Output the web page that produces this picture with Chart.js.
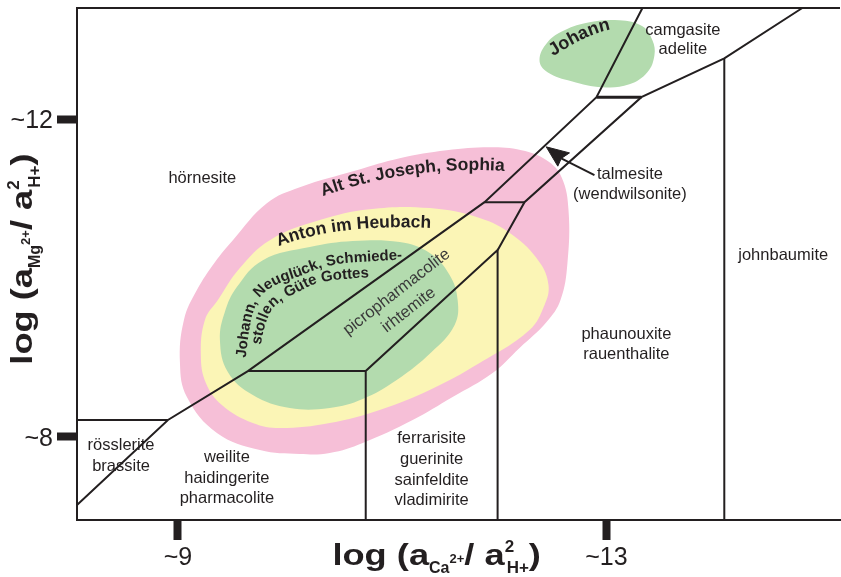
<!DOCTYPE html>
<html>
<head>
<meta charset="utf-8">
<script src="https://cdn.jsdelivr.net/npm/chart.js@4.4.1/dist/chart.umd.min.js"></script>
<style>
  html, body { margin: 0; padding: 0; background: #fff; }
</style>
</head>
<body>
<canvas id="diagram" width="841" height="577"></canvas>
<script>
// approximate tick values printed on the diagram
const xTicks = [9, 13];
const yTicks = [8, 12];
const xRange = [8.058, 15.18];
const yRange = [6.955, 13.40];

// stability field boundaries, x = log(aCa2+/a2H+), y = log(aMg2+/a2H+)
const mainBoundary = [[8.058, 7.145], [8.907, 8.214], [9.653, 8.83], [11.862, 10.956], [12.907, 12.277], [13.336, 13.40]];
const tieLower = [[11.862, 10.956], [12.235, 10.956]];
const rightBoundary = [[11.984, 10.352], [12.235, 10.956], [13.326, 12.277], [14.10, 12.767], [14.828, 13.40]];
const tieUpper = [[12.907, 12.277], [13.326, 12.277]];
const ferrarisiteField = [[10.753, 6.955], [10.753, 8.83], [11.984, 10.352], [11.984, 6.955]];
const weiliteTop = [[9.653, 8.83], [10.753, 8.83]];
const johnbaumiteEdge = [[14.10, 12.767], [14.10, 6.955]];
const rossleriteTop = [[8.058, 8.214], [8.907, 8.214]];
const frameTop = [[8.058, 13.40], [15.18, 13.40]];

// arrow pointing at the talmesite field
const talmesiteArrow = [[12.888, 11.296], [12.578, 11.506]];
const talmesiteHead = [[12.438, 11.652], [12.655, 11.576], [12.578, 11.506], [12.546, 11.409], [12.438, 11.652]];

// observed assemblages (outlines of the shaded fields)
const altStJoseph = [
  [9.019, 8.931], [9.056, 9.472], [9.177, 9.849], [9.345, 10.201], [9.513, 10.478], [9.830, 10.943],
  [10.138, 11.145], [10.669, 11.359], [11.070, 11.510], [11.508, 11.610], [11.909, 11.648], [12.207, 11.610],
  [12.441, 11.484], [12.581, 11.271], [12.646, 10.855], [12.636, 10.189], [12.571, 9.723], [12.441, 9.447],
  [12.189, 9.120], [11.937, 8.805], [11.564, 8.503], [11.191, 8.214], [10.725, 7.925], [10.417, 7.799],
  [10.138, 7.786], [9.765, 7.836], [9.364, 8.050], [9.084, 8.503]
];
const antonImHeubach = [
  [9.214, 9.031], [9.252, 9.472], [9.373, 9.723], [9.578, 10.126], [9.858, 10.478], [10.324, 10.730],
  [10.790, 10.868], [11.350, 10.881], [11.816, 10.755], [12.124, 10.541], [12.375, 10.201], [12.459, 9.912],
  [12.422, 9.660], [12.282, 9.346], [11.816, 8.931], [11.350, 8.591], [10.883, 8.340], [10.417, 8.176],
  [9.951, 8.113], [9.699, 8.176], [9.410, 8.403], [9.261, 8.679]
];
const johannNeugluck = [
  [9.392, 9.220], [9.438, 9.572], [9.550, 9.887], [9.793, 10.226], [10.231, 10.390], [10.632, 10.466],
  [11.070, 10.453], [11.350, 10.315], [11.536, 10.038], [11.611, 9.723], [11.583, 9.409], [11.368, 9.069],
  [11.042, 8.717], [10.725, 8.478], [10.417, 8.365], [10.044, 8.365], [9.699, 8.528], [9.466, 8.818]
];
const johannUpper = [
  [12.375, 12.742], [12.450, 12.969], [12.608, 13.120], [12.842, 13.220], [13.121, 13.245], [13.336, 13.170],
  [13.429, 12.994], [13.448, 12.805], [13.382, 12.591], [13.214, 12.440], [12.963, 12.403], [12.674, 12.478],
  [12.450, 12.591]
];

const ink = '#231f20';
const fontFamily = '"Liberation Sans", Arial, Helvetica, sans-serif';

// mineral names, centred on the given data position (following lines one gap lower)
const fieldLabels = [
  { lines: ['hörnesite'], x: 9.228, y: 11.252 },
  { lines: ['camgasite', 'adelite'], x: 13.713, y: 13.113, gap: 19 },
  { lines: ['talmesite', '(wendwilsonite)'], x: 13.219, y: 11.302, gap: 20 },
  { lines: ['johnbaumite'], x: 14.650, y: 10.289 },
  { lines: ['phaunouxite', 'rauenthalite'], x: 13.186, y: 9.296, gap: 20 },
  { lines: ['rösslerite', 'brassite'], x: 8.469, y: 7.893, gap: 20.5 },
  { lines: ['weilite', 'haidingerite', 'pharmacolite'], x: 9.457, y: 7.742, gap: 20.7 },
  { lines: ['ferrarisite', 'guerinite', 'sainfeldite', 'vladimirite'], x: 11.368, y: 7.981, gap: 20.8 },
  { lines: ['picropharmacolite'], x: 11.042, y: 9.824, rot: -37.7, color: '#3a3a3a' },
  { lines: ['irhtemite'], x: 11.154, y: 9.598, rot: -37.7, color: '#3a3a3a' }
];

// locality names written along curves: baseline path in data units
const curvedLabels = [
  { text: 'Alt St. Joseph, Sophia', bez: [[10.333, 11.019], [11.173, 11.434], [12.068, 11.346]], size: 17.5 },
  { text: 'Anton im Heubach', bez: [[9.923, 10.390], [10.478, 10.692], [11.378, 10.629]], size: 17.5 },
  { text: 'Johann', bez: [[12.487, 12.780], [12.841, 13.094], [13.056, 13.132]], size: 18 },
  {
    text: 'Johann, Neuglück, Schmiede-', size: 15, start: true,
    path: [[9.634, 8.994], [9.662, 9.321], [9.709, 9.598], [9.783, 9.786], [9.932, 9.925],
           [10.138, 10.025], [10.324, 10.126], [10.557, 10.189], [10.837, 10.214], [11.126, 10.239]]
  },
  {
    text: 'stollen, Güte Gottes', size: 15, start: true,
    path: [[9.774, 9.157], [9.811, 9.396], [9.876, 9.598], [9.979, 9.723], [10.119, 9.824],
           [10.277, 9.925], [10.464, 9.975], [10.650, 10.0], [10.828, 10.013]]
  }
];

function pts(arr) {
  return arr.map(p => ({ x: p[0], y: p[1] }));
}

// wrap the outline so the spline closes smoothly
function loopPts(arr) {
  const n = arr.length;
  return pts([arr[n - 1], ...arr, arr[0], arr[1]]);
}

function lineSet(arr, width, order) {
  return {
    data: pts(arr), showLine: true, borderColor: ink, borderWidth: width,
    pointRadius: 0, fill: false, tension: 0, order: order, clip: 4
  };
}

function fieldSet(arr, color, order) {
  return {
    data: loopPts(arr), showLine: true, borderColor: 'rgba(0,0,0,0)', borderWidth: 0,
    backgroundColor: color, fill: 'shape', tension: 0.4, pointRadius: 0, order: order
  };
}

// sample a quadratic bezier (pixel points)
function sampleBezier(P0, C, P2) {
  const out = [];
  for (let i = 0; i <= 300; i++) {
    const t = i / 300, a = (1 - t) * (1 - t), b = 2 * (1 - t) * t, c = t * t;
    out.push([a * P0[0] + b * C[0] + c * P2[0], a * P0[1] + b * C[1] + c * P2[1]]);
  }
  return out;
}

// sample a catmull-rom spline through the pixel points
function sampleSpline(P) {
  const out = [];
  for (let i = 0; i < P.length - 1; i++) {
    const p0 = P[Math.max(i - 1, 0)], p1 = P[i], p2 = P[i + 1], p3 = P[Math.min(i + 2, P.length - 1)];
    for (let k = 0; k < 40; k++) {
      const t = k / 40, t2 = t * t, t3 = t2 * t;
      const f = (a, b, c, d) => 0.5 * (2 * b + (-a + c) * t + (2 * a - 5 * b + 4 * c - d) * t2 + (-a + 3 * b - 3 * c + d) * t3);
      out.push([f(p0[0], p1[0], p2[0], p3[0]), f(p0[1], p1[1], p2[1], p3[1])]);
    }
  }
  out.push(P[P.length - 1]);
  return out;
}

function textOnPath(ctx, text, path, alignStart) {
  const N = path.length - 1;
  const len = [0];
  for (let i = 1; i <= N; i++) len.push(len[i - 1] + Math.hypot(path[i][0] - path[i - 1][0], path[i][1] - path[i - 1][1]));
  const start = alignStart ? 0 : (len[N] - ctx.measureText(text).width) / 2;
  for (let k = 0; k < text.length; k++) {
    const ch = text[k];
    const s = start + ctx.measureText(text.slice(0, k)).width + ctx.measureText(ch).width / 2;
    let i = 1;
    while (i < N && len[i] < s) i++;
    const f = (s - len[i - 1]) / ((len[i] - len[i - 1]) || 1);
    const x = path[i - 1][0] + f * (path[i][0] - path[i - 1][0]);
    const y = path[i - 1][1] + f * (path[i][1] - path[i - 1][1]);
    const ang = Math.atan2(path[i][1] - path[i - 1][1], path[i][0] - path[i - 1][0]);
    ctx.save();
    ctx.translate(x, y);
    ctx.rotate(ang);
    ctx.textAlign = 'center';
    ctx.textBaseline = 'alphabetic';
    ctx.fillText(ch, 0, 0);
    ctx.restore();
  }
}

// axis title with sub- and superscripts
function drawRich(ctx, parts) {
  let total = 0;
  parts.forEach(p => {
    ctx.font = 'bold ' + p.size + 'px ' + fontFamily;
    p.w = ctx.measureText(p.t).width * (p.sx || 1);
    if (p.advance !== false) total += p.w + (p.dx || 0);
  });
  let x = -total / 2;
  parts.forEach(p => {
    ctx.font = 'bold ' + p.size + 'px ' + fontFamily;
    ctx.save();
    ctx.translate(x + (p.dx || 0), p.dy || 0);
    ctx.scale(p.sx || 1, 1);
    ctx.fillText(p.t, 0, 0);
    ctx.restore();
    if (p.advance !== false) x += p.w + (p.dx || 0);
  });
}

function titleParts(species) {
  return [
    { t: 'log (a', size: 29, sx: 1.25 },
    { t: species, size: 16, dy: 8 },
    { t: '2+', size: 13, dy: -2 },
    { t: '/ a', size: 29, sx: 1.25 },
    { t: '2', size: 17, dy: -13, advance: false },
    { t: 'H+', size: 17, dy: 8, dx: 2 },
    { t: ')', size: 29, sx: 1.25 }
  ];
}

const labelPlugin = {
  id: 'diagramText',
  afterDraw(chart) {
    const ctx = chart.ctx;
    const xs = chart.scales.x, ys = chart.scales.y;
    const area = chart.chartArea;
    const P = p => [xs.getPixelForValue(p[0]), ys.getPixelForValue(p[1])];
    ctx.save();
    ctx.fillStyle = ink;

    fieldLabels.forEach(l => {
      ctx.save();
      ctx.translate(xs.getPixelForValue(l.x), ys.getPixelForValue(l.y));
      if (l.rot) ctx.rotate(l.rot * Math.PI / 180);
      ctx.font = '16.5px ' + fontFamily;
      ctx.fillStyle = l.color || ink;
      ctx.textAlign = 'center';
      ctx.textBaseline = 'middle';
      l.lines.forEach((t, i) => ctx.fillText(t, 0, i * (l.gap || 21)));
      ctx.restore();
    });

    curvedLabels.forEach(l => {
      ctx.font = 'bold ' + l.size + 'px ' + fontFamily;
      const path = l.path ? sampleSpline(l.path.map(P)) : sampleBezier(P(l.bez[0]), P(l.bez[1]), P(l.bez[2]));
      textOnPath(ctx, l.text, path, l.start);
    });

    ctx.textAlign = 'left';
    ctx.textBaseline = 'alphabetic';
    ctx.save();
    ctx.translate(xs.getPixelForValue(11.415), area.bottom + 45);
    drawRich(ctx, titleParts('Ca'));
    ctx.restore();

    ctx.save();
    ctx.translate(area.left - 45, ys.getPixelForValue(10.239));
    ctx.rotate(-Math.PI / 2);
    drawRich(ctx, titleParts('Mg'));
    ctx.restore();

    ctx.restore();
  }
};

new Chart(document.getElementById('diagram'), {
  type: 'scatter',
  data: {
    datasets: [
      fieldSet(altStJoseph, '#f6bfd7', 10),
      fieldSet(antonImHeubach, '#fbf5b6', 9),
      fieldSet(johannNeugluck, '#b3dbae', 8),
      fieldSet(johannUpper, '#b3dbae', 8),
      lineSet(mainBoundary, 2, 2),
      lineSet(tieLower, 2, 2),
      lineSet(rightBoundary, 2, 2),
      lineSet(tieUpper, 3, 2),
      lineSet(ferrarisiteField, 2, 2),
      lineSet(weiliteTop, 2, 2),
      lineSet(johnbaumiteEdge, 2, 2),
      lineSet(rossleriteTop, 2, 2),
      lineSet(frameTop, 2, 2),
      lineSet(talmesiteArrow, 2, 1),
      {
        data: pts(talmesiteHead), showLine: true, borderColor: ink, borderWidth: 1,
        backgroundColor: ink, fill: 'shape', pointRadius: 0, tension: 0, order: 1
      }
    ]
  },
  options: {
    responsive: false,
    devicePixelRatio: 1,
    animation: false,
    layout: { padding: { top: 8, right: 1, left: 0, bottom: 0 } },
    plugins: { legend: { display: false }, tooltip: { enabled: false } },
    scales: {
      x: {
        type: 'linear', min: xRange[0], max: xRange[1],
        afterBuildTicks: s => { s.ticks = xTicks.map(v => ({ value: v })); },
        afterFit: s => { s.height = 57; s.paddingLeft = 0; s.paddingRight = 0; },
        ticks: { callback: v => '~' + v, color: ink, font: { family: fontFamily, size: 25 }, padding: 3, maxRotation: 0, autoSkip: false },
        grid: { drawOnChartArea: false, drawTicks: true, tickLength: 20, tickWidth: 8, tickColor: ink },
        border: { display: true, color: ink, width: 2 }
      },
      y: {
        type: 'linear', min: yRange[0], max: yRange[1],
        afterBuildTicks: s => { s.ticks = yTicks.map(v => ({ value: v })); },
        afterFit: s => { s.width = 77; s.paddingTop = 0; s.paddingBottom = 0; },
        ticks: { callback: v => '~' + v, color: ink, font: { family: fontFamily, size: 25 }, padding: 4, labelOffset: 2, autoSkip: false },
        grid: { drawOnChartArea: false, drawTicks: true, tickLength: 20, tickWidth: 8, tickColor: ink },
        border: { display: true, color: ink, width: 2 }
      }
    }
  },
  plugins: [labelPlugin]
});
</script>
</body>
</html>
